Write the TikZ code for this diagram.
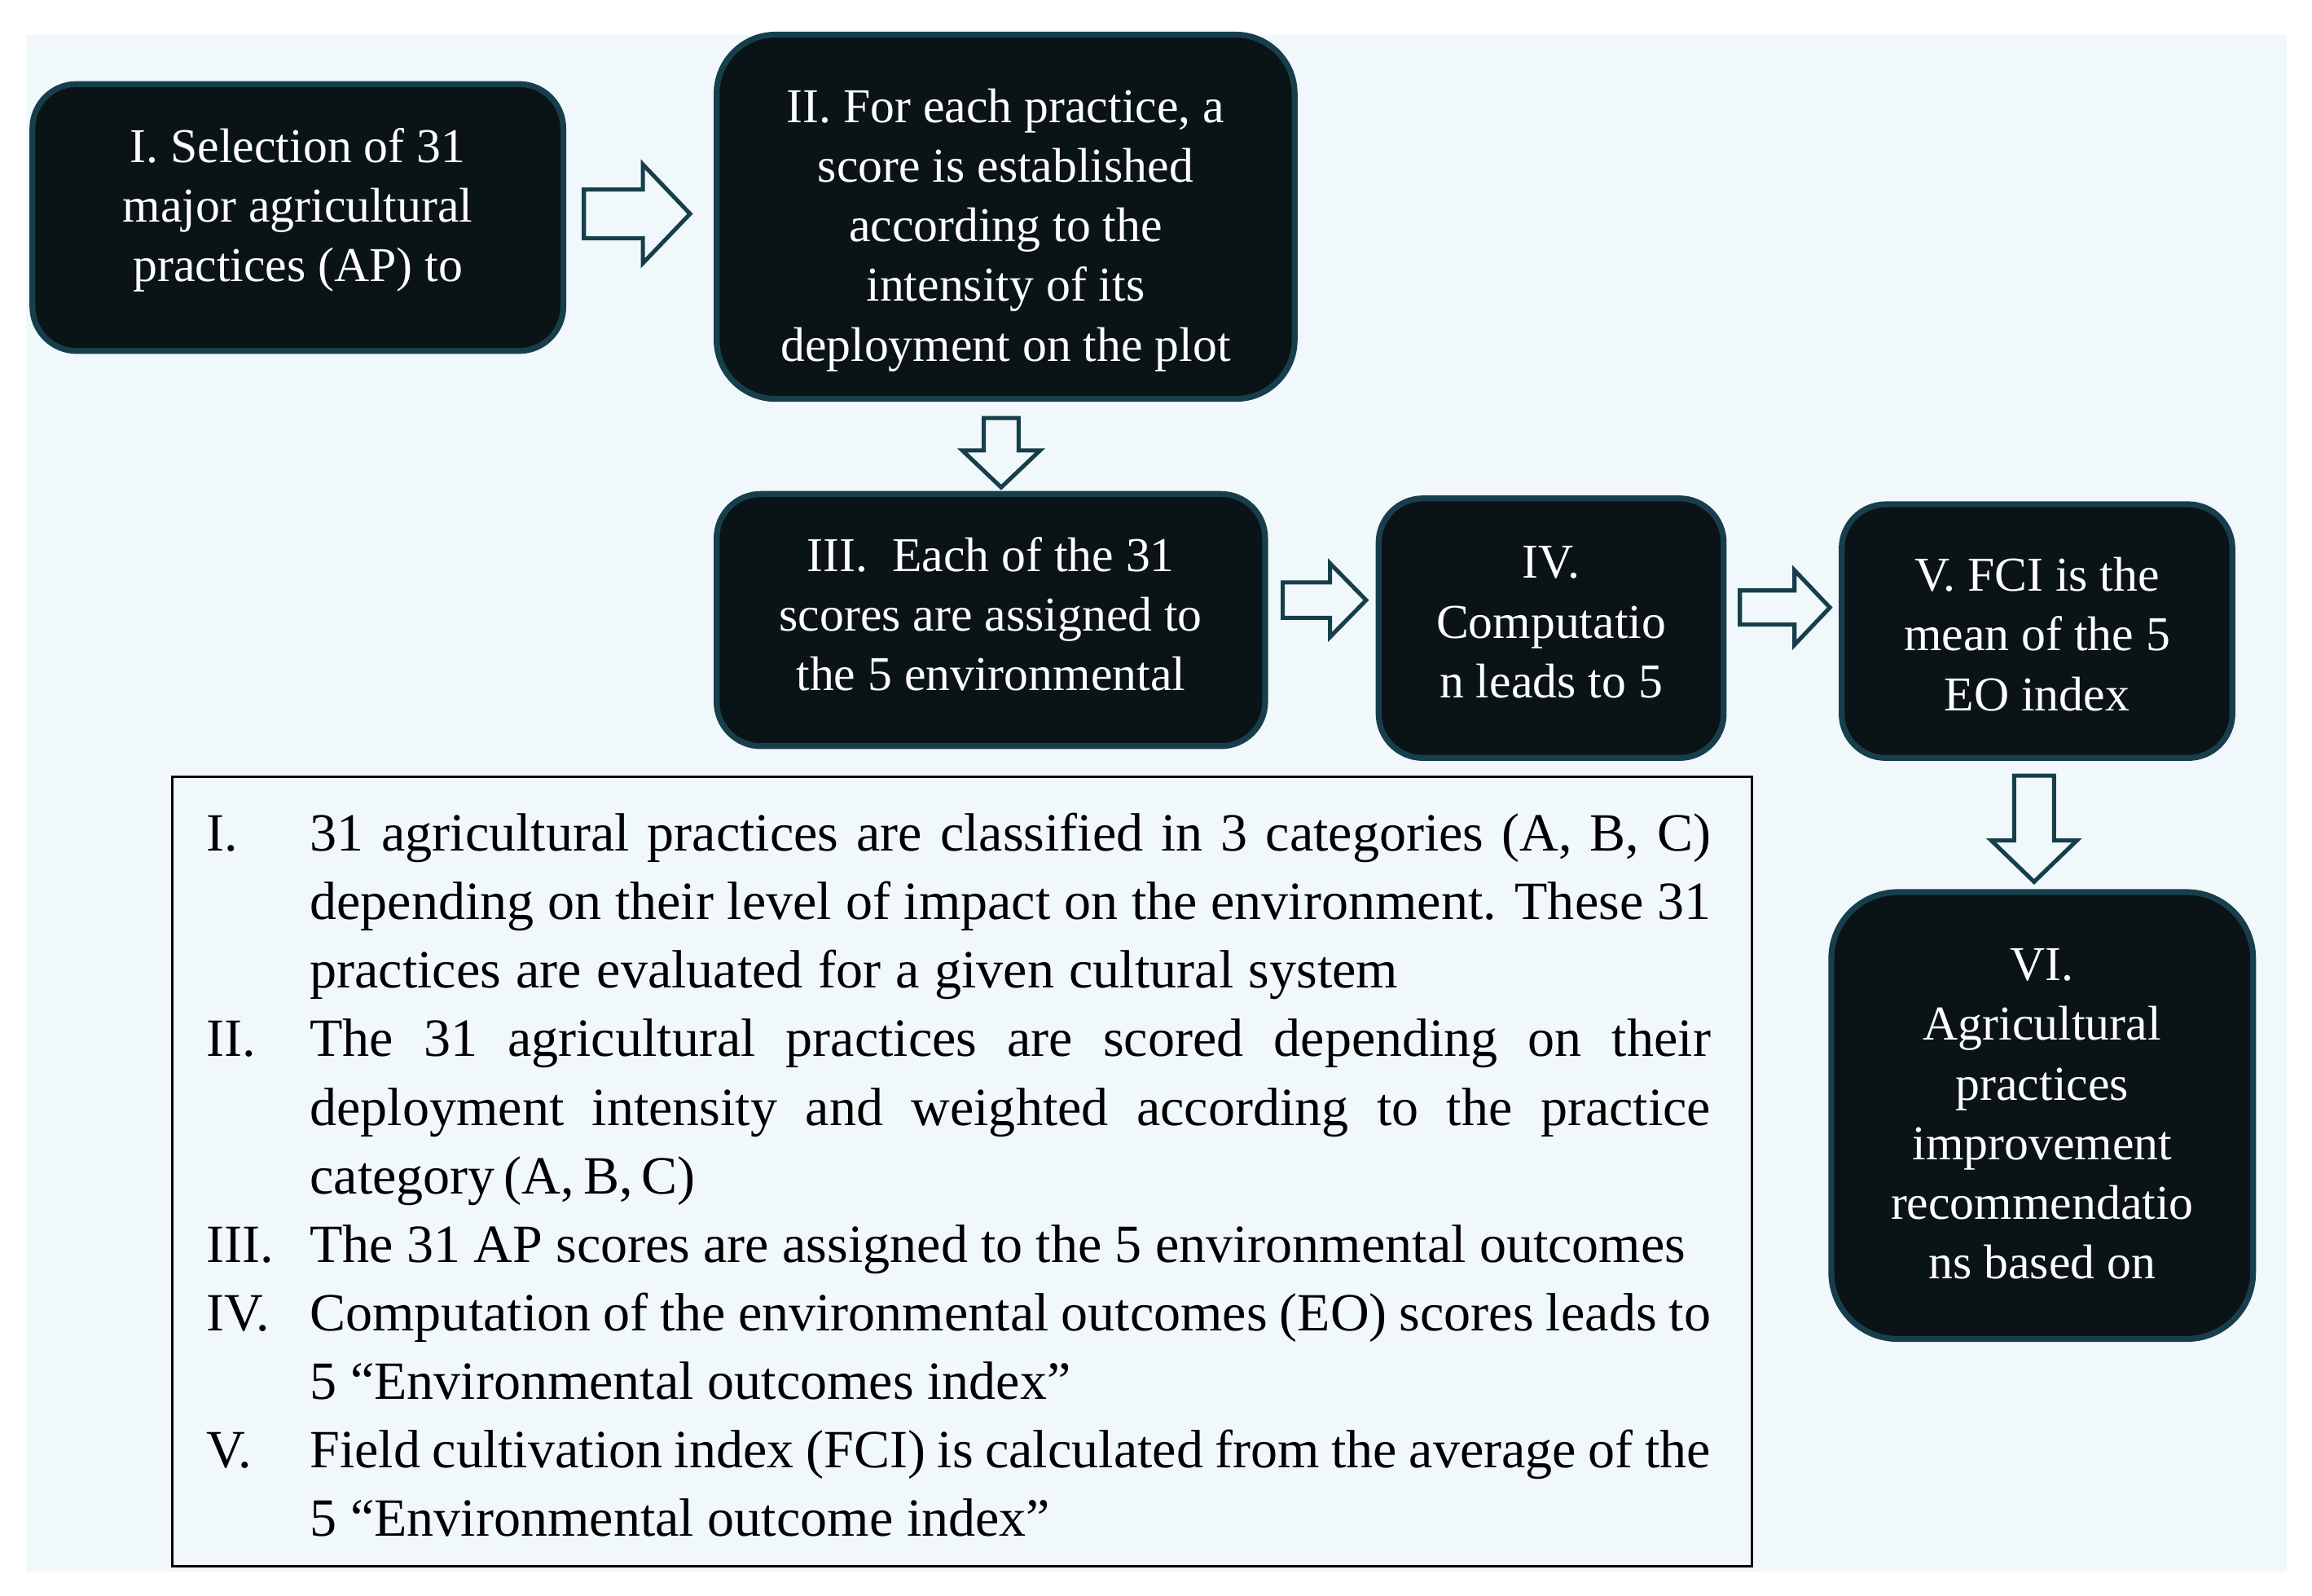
\documentclass[tikz,border=0pt]{standalone}
\usepackage{fontspec}
\setmainfont{Liberation Serif}
\usetikzlibrary{calc}
\definecolor{bgc}{HTML}{F1F8FB}
\definecolor{boxfill}{HTML}{0A1315}
\definecolor{boxline}{HTML}{163F4B}
\tikzset{
  stage/.style={draw=boxline, line width=4pt, fill=boxfill, rounded corners=#1, inner sep=0pt},
  stage/.default=30pt,
  stagetext/.style={text=white, align=center, font=\fontsize{33}{40.5}\selectfont, inner sep=0pt},
  blockarr/.style={draw=boxline, line width=2.8pt, fill=bgc, line join=miter},
  legendbox/.style={draw=black, line width=1.6pt, inner sep=0pt},
  legline/.style={anchor=base west, inner sep=0pt, font=\fontsize{36.5}{46.5}\selectfont},
}
% right-pointing block arrow: start coord (left middle), length, shaft half, head half, head length
\newcommand\ArrR[5]{\draw[blockarr] (#1) ++(0,-#3) -- ++({#2-#5},0) -- ++(0,{#3-#4}) -- ++(#5,#4) -- ++(-#5,#4) -- ++(0,{#3-#4}) -- ++({#5-#2},0) -- cycle;}
% down-pointing block arrow: start coord (top middle), length, shaft half, head half, head length
\newcommand\ArrD[5]{\draw[blockarr] (#1) ++(-#3,0) -- ++(0,{#2-#5}) -- ++({#3-#4},0) -- ++(#4,#5) -- ++(#4,-#5) -- ++({#3-#4},0) -- ++(0,{#5-#2}) -- cycle;}
\begin{document}
\begin{tikzpicture}[x=1pt,y=-1pt]
\useasboundingbox (0,0) rectangle (1568,1082);
\fill[white] (0,0) rectangle (1568,1082);
\fill[bgc] (17.5,23.6) rectangle (1551,1066);

% stage boxes
\node[stage, minimum width=360pt, minimum height=181pt] (I) at (202,147.5) {};
\node[stage=40pt, minimum width=392pt, minimum height=247pt] (II) at (682,147) {};
\node[stage, minimum width=372pt, minimum height=171pt] (III) at (672,420.5) {};
\node[stage, minimum width=234pt, minimum height=176pt] (IV) at (1052,426) {};
\node[stage, minimum width=265pt, minimum height=172pt] (V) at (1381.5,428) {};
\node[stage=45pt, minimum width=286pt, minimum height=303pt] (VI) at (1385,756.5) {};

% stage texts
\node[stagetext] (tI) at ($(I.center)+(0,-5)$)
  {I. Selection of 31\\major agricultural\\practices (AP) to};
\node[stagetext] (tII) at ($(II.center)+(0,9)$)
  {II. For each practice, a\\score is established\\according to the\\intensity of its\\deployment on the plot};
\node[stagetext] (tIII) at ($(III.center)+(0,-4)$)
  {III.\ \ Each of the 31\\scores are assigned to\\the 5 environmental};
\node[stagetext] (tIV) at ($(IV.center)+(0,-4)$)
  {IV.\\Computatio\\n leads to 5};
\node[stagetext] (tV) at ($(V.center)+(0,2)$)
  {V. FCI is the\\mean of the 5\\EO index};
\node[stagetext] (tVI) at ($(VI.center)+(0,-1)$)
  {VI.\\Agricultural\\practices\\improvement\\recommendatio\\ns based on};

% block arrows
\coordinate (a12) at ($(I.east)+(12,-2.5)$);
\coordinate (a23) at ($(II.south)+(-3,11)$);
\coordinate (a34) at ($(III.east)+(10,-13.5)$);
\coordinate (a45) at ($(IV.east)+(9,-14)$);
\coordinate (a56) at ($(V.south)+(-2,10)$);
\ArrR{a12}{72}{16.5}{33.5}{32}
\ArrD{a23}{47}{11.8}{26.3}{25}
\ArrR{a34}{56.5}{12}{25}{24.5}
\ArrR{a45}{61}{11.6}{25.3}{24}
\ArrD{a56}{72}{13.5}{29}{28}

% legend
\node[legendbox, minimum width=1071pt, minimum height=535pt] (legend) at (652.5,794.5) {};
\node[legline] (n1) at (140,577) {I.};
\node[legline] (n2) at (140,716.5) {II.};
\node[legline] (n3) at (140,856) {III.};
\node[legline] (n4) at (140,902.5) {IV.};
\node[legline] (n5) at (140,995.5) {V.};
\node[legline] (l1) at (210,577) {\makebox[950pt][s]{31 agricultural practices are classified in 3 categories (A, B, C)}};
\node[legline] (l2) at (210,623.5) {\makebox[950pt][s]{depending on their level of impact on the environment. These 31}};
\node[legline] (l3) at (210,670) {\makebox[738pt][s]{practices are evaluated for a given cultural system}};
\node[legline] (l4) at (210,716.5) {\makebox[950pt][s]{The 31 agricultural practices are scored depending on their}};
\node[legline] (l5) at (210,763) {\makebox[950pt][s]{deployment intensity and weighted according to the practice}};
\node[legline] (l6) at (210,809.5) {\makebox[258pt][s]{category (A, B, C)}};
\node[legline] (l7) at (210,856) {\makebox[933pt][s]{The 31 AP scores are assigned to the 5 environmental outcomes}};
\node[legline] (l8) at (210,902.5) {\makebox[950pt][s]{Computation of the environmental outcomes (EO) scores leads to}};
\node[legline] (l9) at (210,949) {\makebox[516pt][s]{5 “Environmental outcomes index”}};
\node[legline] (l10) at (210,995.5) {\makebox[950pt][s]{Field cultivation index (FCI) is calculated from the average of the}};
\node[legline] (l11) at (210,1042) {\makebox[502pt][s]{5 “Environmental outcome index”}};
\end{tikzpicture}
\end{document}
